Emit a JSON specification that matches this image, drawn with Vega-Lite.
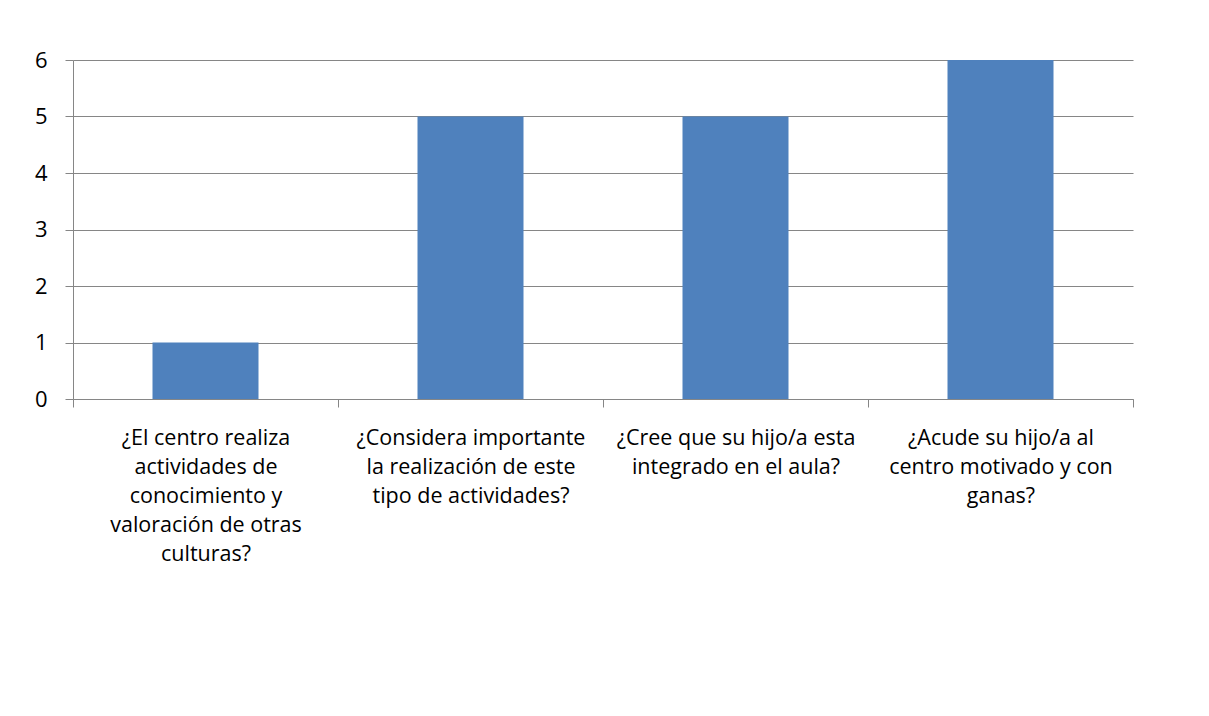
{
  "$schema": "https://vega.github.io/schema/vega-lite/v6.json",
  "width": 1060,
  "height": 339,
  "autosize": "none",
  "padding": {"left": 73, "top": 60, "right": 76, "bottom": 317},
  "background": "white",
  "data": {
    "values": [
      {"pregunta": "¿El centro realiza\nactividades de\nconocimiento y\nvaloración de otras\nculturas?", "valor": 1},
      {"pregunta": "¿Considera importante\nla realización de este\ntipo de actividades?", "valor": 5},
      {"pregunta": "¿Cree que su hijo/a esta\nintegrado en el aula?", "valor": 5},
      {"pregunta": "¿Acude su hijo/a al\ncentro motivado y con\nganas?", "valor": 6}
    ]
  },
  "mark": {"type": "bar", "color": "#4F81BD", "width": {"band": 0.4}},
  "encoding": {
    "x": {
      "field": "pregunta",
      "type": "nominal",
      "sort": null,
      "scale": {"paddingInner": 0, "paddingOuter": 0},
      "axis": {
        "title": null,
        "labelAngle": 0,
        "labelExpr": "split(datum.label, '\\n')",
        "labelFont": "Open Sans",
        "labelFontSize": 21.5,
        "labelColor": "#000000",
        "labelLineHeight": 29,
        "labelPadding": 20,
        "labelLimit": 400,
        "labelBaseline": "top",
        "tickBand": "extent",
        "tickSize": 8,
        "tickColor": "#868686",
        "domainColor": "#868686",
        "grid": false
      }
    },
    "y": {
      "field": "valor",
      "type": "quantitative",
      "scale": {"domain": [0, 6], "nice": false},
      "axis": {
        "title": null,
        "values": [0, 1, 2, 3, 4, 5, 6],
        "labelFont": "Open Sans",
        "labelFontSize": 22,
        "labelColor": "#000000",
        "labelPadding": 18,
        "tickSize": 8,
        "tickColor": "#868686",
        "domainColor": "#868686",
        "gridColor": "#868686",
        "grid": true
      }
    }
  },
  "config": {"view": {"stroke": null}}
}
